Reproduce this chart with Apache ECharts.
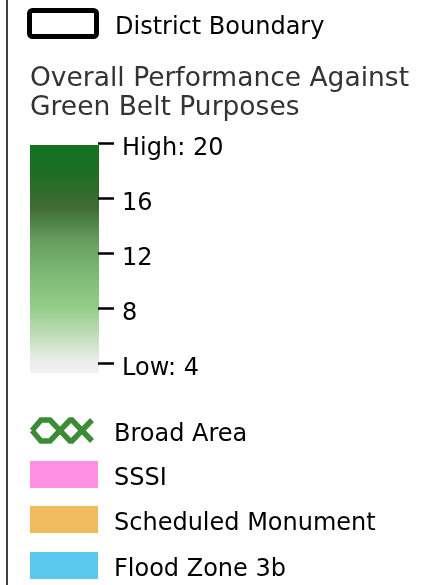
<!DOCTYPE html>
<html lang="en">
<head>
<meta charset="UTF-8">
<title>Overall Performance Against Green Belt Purposes - legend</title>
<script src="https://cdn.jsdelivr.net/npm/echarts@6/dist/echarts.min.js"></script>
<style>
  html, body { margin: 0; padding: 0; background: #fff; }
  #main { width: 423px; height: 585px; }
</style>
</head>
<body>
<div id="main"></div>
<script type="text/javascript">
// scale ticks of the colour bar
var scoreTicks = [4, 8, 12, 16, 20];
var scoreTickLabels = ['Low: 4', '8', '12', '16', 'High: 20'];
// colour ramp, top (high) to bottom (low)
var rampOffsets = [0, 0.12, 0.27, 0.42, 0.56, 0.71, 0.86, 0.93, 1];
var rampColors = ['#137222', '#1c6e24', '#406b34', '#669e5f', '#7db975', '#93cc88', '#c9e0c3', '#e6ebe5', '#f4f0f6'];
// other layers
var legendNames = ['Broad Area', 'SSSI', 'Scheduled Monument', 'Flood Zone 3b'];
var legendColors = ['#3c8c35', '#fe8fe3', '#f0bb5c', '#5bc8f0'];

var FONT = '"DejaVu Sans", Verdana, sans-serif';
var myChart = echarts.init(document.getElementById('main'));

var stops = [];
for (var i = 0; i < rampColors.length; i++) {
    stops.push({ offset: rampOffsets[i], color: rampColors[i] });
}

var rowY = [430.5, 474.5, 519.5, 565.5];
var elements = [
    // frame line on the left
    { type: 'line', shape: { x1: 7, y1: 0, x2: 7, y2: 585 }, style: { stroke: '#000', lineWidth: 1.5 } },
    // district boundary
    { type: 'rect', shape: { x: 29.5, y: 10.5, width: 67, height: 26, r: 3 }, style: { fill: 'none', stroke: '#000', lineWidth: 5 } },
    { type: 'text', x: 115, y: 27.5, style: { text: 'District Boundary', font: '24px ' + FONT, fill: '#000', verticalAlign: 'middle' } },
    // title
    { type: 'text', x: 30, y: 79.5, style: { text: 'Overall Performance Against', font: '26.5px ' + FONT, fill: '#333', verticalAlign: 'middle' } },
    { type: 'text', x: 30, y: 108.5, style: { text: 'Green Belt Purposes', font: '26.5px ' + FONT, fill: '#333', verticalAlign: 'middle' } },
    // colour bar
    { type: 'rect', z: -1, shape: { x: 30, y: 145, width: 69, height: 228 },
      style: { fill: new echarts.graphic.LinearGradient(0, 0, 0, 1, stops) } }
];

// broad area hatch swatch
elements.push({ type: 'polyline', shape: { points: [[32, 430.5], [41, 420], [50, 420], [70, 441], [72, 441], [92, 420]] },
    style: { stroke: legendColors[0], lineWidth: 5.5, fill: 'none' } });
elements.push({ type: 'polyline', shape: { points: [[32, 430.5], [41, 441], [50, 441], [70, 420], [72, 420], [92, 441]] },
    style: { stroke: legendColors[0], lineWidth: 5.5, fill: 'none' } });

for (var k = 0; k < legendNames.length; k++) {
    if (k > 0) {
        elements.push({ type: 'rect', shape: { x: 30, y: rowY[k] - 13.5, width: 68, height: 27 },
            style: { fill: legendColors[k] } });
    }
    elements.push({ type: 'text', x: 114, y: rowY[k] + 4, style: { text: legendNames[k], font: '24px ' + FONT, fill: '#000', verticalAlign: 'middle' } });
}

myChart.setOption({
    animation: false,
    grid: { left: 30, top: 143, width: 68, height: 220 },
    xAxis: { type: 'value', show: false },
    yAxis: {
        type: 'value',
        position: 'right',
        min: 4,
        max: 20,
        interval: 4,
        z: 5,
        axisLine: { show: false, onZero: false },
        splitLine: { show: false },
        axisTick: { show: true, length: 16, lineStyle: { color: '#000', width: 2.5 } },
        axisLabel: {
            margin: 24,
            formatter: function (v) {
                var idx = scoreTicks.indexOf(v);
                return idx >= 0 ? '{t|' + scoreTickLabels[idx] + '}' : '';
            },
            rich: {
                t: { color: '#000', fontSize: 24, fontFamily: FONT, padding: [12, 0, 0, 0] }
            }
        }
    },
    graphic: { elements: elements }
});
</script>
</body>
</html>
